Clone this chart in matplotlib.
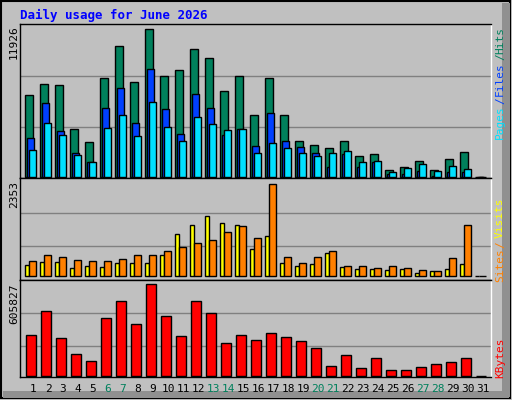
import matplotlib
matplotlib.use("Agg")
import matplotlib.pyplot as plt
from matplotlib.patches import Rectangle

days = list(range(1, 32))
hits = [6584,7474,7393,3831,2779,7960,10550,7636,11926,8121,8607,10307,9578,6907,8121,4965,7960,4965,2860,2536,2293,2860,1646,1808,513,755,1241,513,1403,1970,0]
files = [3103,5936,3669,1889,1160,5531,7150,4317,8688,5450,3426,6664,5531,3346,3831,2455,5126,2860,2374,1889,755,1808,755,1160,189,189,432,81,351,351,0]
pages = [2131,4317,3346,1727,1160,3912,4964,3265,6017,3993,2860,4802,4236,3750,3831,1889,2698,2293,1889,1646,1889,2050,1160,1241,351,675,998,432,836,594,0]
visits = [281,358,358,205,256,230,332,332,332,537,1074,1304,1535,1355,1304,691,1023,332,256,307,588,230,179,179,153,179,77,128,179,307,0]
sites = [384,537,486,409,384,384,435,537,537,639,742,844,921,1125,1279,972,2353,486,332,486,639,256,256,205,256,205,153,128,460,1304,0]
kbytes = [267531,426723,247632,141504,95073,380292,493053,340494,605827,393558,260898,493053,413457,214467,267531,234366,280797,254265,227733,181302,61908,134871,48642,114972,35376,35376,55275,75174,88440,114972,0]
weekend = [6,7,13,14,20,21,27,28]
title = "Daily usage for June 2026"

W, H = 512, 400
fig = plt.figure(figsize=(W/100, H/100), dpi=100)
fig.patch.set_facecolor("#C0C0C0")
bg = fig.add_axes([0, 0, 1, 1]); bg.set_xlim(0, W); bg.set_ylim(H, 0); bg.axis("off")
bg.add_patch(Rectangle((1, 1), W-3, H-3, fill=False, ec="black", lw=1.5))
bg.add_patch(Rectangle((W-10, 3), 8, H-6, color="#909090", lw=0))
bg.add_patch(Rectangle((3, H-9), W-6, 7, color="#909090", lw=0))
mono = "DejaVu Sans Mono"
bg.text(20, 15, title, color="#0000FF", fontsize=9, fontweight="bold", family=mono, va="center")

x0, x1 = 20, 491
def panel(top, bot, base, maxpix, maxval, grids):
    ax = fig.add_axes([x0/W, 1-bot/H, (x1-x0)/W, (bot-top)/H])
    s = maxval/(base-maxpix)
    ax.set_ylim(-(bot-base)*s, (base-top)*s)
    ax.set_xlim(-0.33, 31.07)
    ax.set_facecolor("#C0C0C0")
    for g in grids:
        ax.axhline((base-g)*s, color="#808080", lw=1, zorder=0)
    ax.set_xticks([]); ax.set_yticks([])
    for sp in ax.spines.values():
        sp.set_color("black"); sp.set_linewidth(1)
    ax.spines["right"].set_color("white")
    return ax

xs = [d-1 for d in days]
a1 = panel(24, 178, 176.7, 29.3, max(hits), [76.3, 127.3])
a1.bar([x+0.02 for x in xs], hits, 0.49, align="edge", color="#00805C", ec="black", lw=1)
a1.bar([x+0.11 for x in xs], files, 0.5, align="edge", color="#0040FF", ec="black", lw=1)
a1.bar([x+0.24 for x in xs], pages, 0.5, align="edge", color="#00E0FF", ec="black", lw=1)

a2 = panel(178, 280, 276.3, 184.3, max(sites), [213.3, 246.3])
a2.bar([x+0.0 for x in xs], visits, 0.3, align="edge", color="#FFFF00", ec="black", lw=1)
a2.bar([x+0.24 for x in xs], sites, 0.51, align="edge", color="#FF8000", ec="black", lw=1)

a3 = panel(280, 377, 375.7, 284.3, max(kbytes), [313.3, 346.3])
a3.bar([x+0.07 for x in xs], kbytes, 0.69, align="edge", color="#FF0000", ec="black", lw=1)

for d in days:
    px = 25 + 15*(d-1) + 8
    bg.text(px, 389, str(d), ha="center", va="center", fontsize=8, family=mono,
            color="#00805C" if d in weekend else "black")

bg.text(14, 25, str(max(hits)), rotation=90, ha="center", va="top", fontsize=8, family=mono)
bg.text(14, 181, str(max(sites)), rotation=90, ha="center", va="top", fontsize=8, family=mono)
bg.text(14, 283, str(max(kbytes)), rotation=90, ha="center", va="top", fontsize=8, family=mono)

def rlab(y, t, c):
    bg.text(500, y, t, rotation=90, ha="center", va="center", fontsize=8, family=mono, color=c)
rlab(40, "Hits", "#00805C"); rlab(57, "/", "#00805C"); rlab(79, "Files", "#0040FF")
rlab(101, "/", "#0040FF"); rlab(122, "Pages", "#00E0FF")
rlab(218, "Visits", "#FFFF00"); rlab(245, "/", "#FF8000"); rlab(265, "Sites", "#FF8000")
rlab(358, "KBytes", "#FF0000")

fig.savefig("out.png", dpi=100, facecolor=fig.get_facecolor())
